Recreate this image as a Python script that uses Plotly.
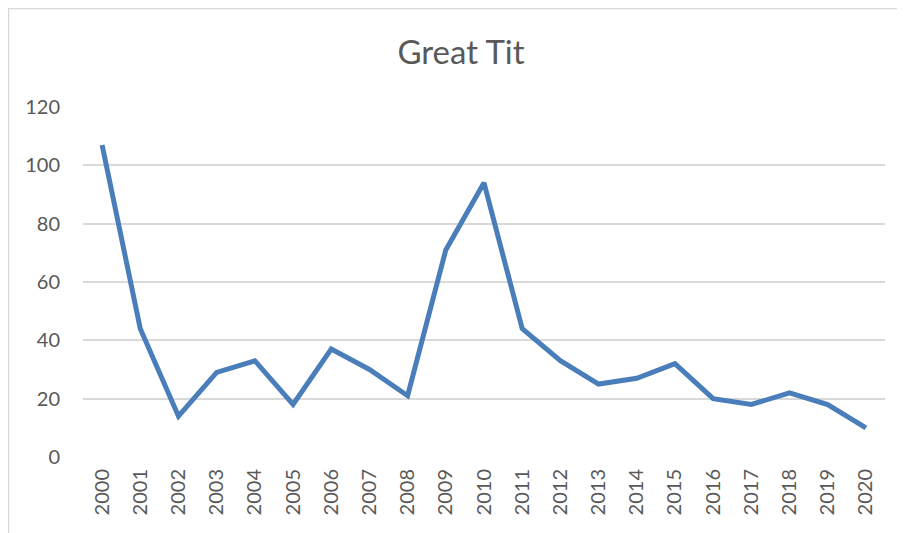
import plotly.graph_objects as go

years = [str(y) for y in range(2000, 2021)]
counts = [107, 44, 14, 29, 33, 18, 37, 30, 21, 71, 94, 44, 33, 25, 27, 32, 20, 18, 22, 18, 10]
y_ticks = [0, 20, 40, 60, 80, 100, 120]

# page body has an 8px margin; shrink the figure so the window is filled exactly
OFF = 8
W, H = 905 - OFF, 533 - OFF
L, R, T, B = 83 - OFF, 20, 107 - OFF, 76

fig = go.Figure()
fig.add_trace(go.Scatter(
    x=list(range(len(years))), y=counts, mode="lines",
    line=dict(color="#4A7EBB", width=5, shape="linear"),
    hoverinfo="skip", showlegend=False,
))

font_fam = "Lato, 'Open Sans', sans-serif"
grey = "#595959"

fig.update_layout(
    width=W, height=H,
    margin=dict(l=L, r=R, t=T, b=B, pad=0),
    paper_bgcolor="white", plot_bgcolor="white",
    title=dict(text="Great Tit", x=(461 - OFF) / W, xref="container", xanchor="center",
               y=1 - (52 - OFF) / H, yref="container", yanchor="middle",
               font=dict(family=font_fam, size=33, color=grey)),
    xaxis=dict(
        tickmode="array", tickvals=list(range(len(years))), ticktext=years,
        range=[-0.5, len(years) - 0.5], tickangle=-90, showgrid=False,
        zeroline=False, showline=False, ticks="", ticklabelstandoff=7,
        tickfont=dict(family=font_fam, size=20, color=grey),
    ),
    yaxis=dict(
        range=[0, 120], tickmode="array", tickvals=y_ticks,
        showgrid=True, gridcolor="#D9D9D9", gridwidth=1.5,
        zeroline=False, showline=False, ticks="", ticklabelstandoff=22,
        tickfont=dict(family=font_fam, size=20, color=grey),
    ),
)

# chart border (outer frame, light grey)
fig.add_shape(type="rect", xref="paper", yref="paper",
              x0=(0.5 - L) / (W - L - R), x1=1.2,
              y0=-0.5, y1=(H - B - 0.5) / (H - T - B),
              line=dict(color="#D9D9D9", width=1.5), fillcolor="rgba(0,0,0,0)",
              layer="below")

fig.write_html("out.html")
